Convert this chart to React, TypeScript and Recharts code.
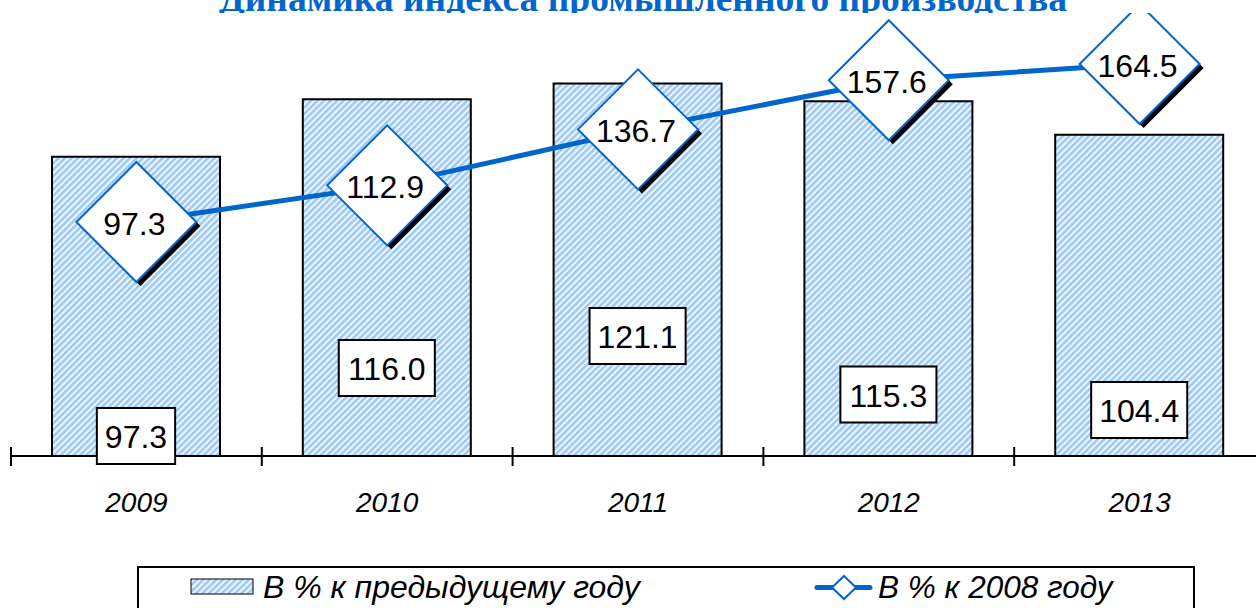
import { Bar, ComposedChart, LabelList, Legend, Line, XAxis, YAxis } from "recharts";

const years = ["2009", "2010", "2011", "2012", "2013"];
const toPrevYear = [97.3, 116.0, 121.1, 115.3, 104.4];
const to2008 = [97.3, 112.9, 136.7, 157.6, 164.5];

// how high (px above the axis) each bar's value box sits
const boxLift = [20, 88, 120, 61.5, 46];

const data = years.map((year, i) => ({ year, prev: toPrevYear[i], base: to2008[i] }));

const BLUE = "#0066cc";
const FONT = "'Liberation Sans', Arial, sans-serif";
const CHART_W = 1266;
const LEFT = 11;
const RIGHT = 1;
const BAND = (CHART_W - LEFT - RIGHT) / years.length;

const fmt = (v: number) => v.toFixed(1);
const textW = (s: string, size: number) =>
  s.split("").reduce((w, c) => w + (c === "." ? 0.278 : 0.556) * size, 0);

function HatchDefs({ id }: { id: string }) {
  return (
    <defs>
      <pattern id={id} width="4.6" height="4.6" patternUnits="userSpaceOnUse" patternTransform="rotate(45)">
        <rect width="4.6" height="4.6" fill="#eef6fe" />
        <rect width="2.6" height="4.6" fill="#9fcaf3" />
      </pattern>
    </defs>
  );
}

function ValueBox(props: any) {
  const { x, y, width, height, value, index } = props;
  const cx = x + width / 2;
  const cy = y + height - boxLift[index];
  const label = fmt(value);
  const w = textW(label, 32) + 16;
  return (
    <g>
      <rect x={cx - w / 2} y={cy - 28} width={w} height={56} fill="#fff" stroke="#000" strokeWidth={2} />
      <text x={cx} y={cy + 12} textAnchor="middle" fontSize={32} fontFamily={FONT} fill="#000">
        {label}
      </text>
    </g>
  );
}

function Diamond(props: any) {
  const { cx, cy, payload, index } = props;
  const r = 60;
  const pts = (dx: number, dy: number) =>
    `${cx + dx},${cy - r + dy} ${cx + r + dx},${cy + dy} ${cx + dx},${cy + r + dy} ${cx - r + dx},${cy + dy}`;
  return (
    <g key={`d-${index}`}>
      <polygon points={pts(4, 4)} fill="#000" />
      <polygon points={pts(0, 0)} fill="#fff" stroke={BLUE} strokeWidth={2} />
      <text x={cx - 2} y={cy + 13} textAnchor="middle" fontSize={32} fontFamily={FONT} fill="#000">
        {fmt(payload.base)}
      </text>
    </g>
  );
}

function YearTick(props: any) {
  const { x, y, payload, index } = props;
  return (
    <g>
      <line x1={x - BAND / 2} x2={x - BAND / 2} y1={y - 9} y2={y + 10} stroke="#000" strokeWidth={2} />
      {index === years.length - 1 && (
        <line x1={x + BAND / 2} x2={x + BAND / 2} y1={y - 9} y2={y + 10} stroke="#000" strokeWidth={2} />
      )}
      <text x={x} y={y + 56} textAnchor="middle" fontSize={28} fontStyle="italic" fontFamily={FONT} fill="#000">
        {payload.value}
      </text>
    </g>
  );
}

function LegendBox() {
  return (
    <svg width={1058} height={60} style={{ display: "block" }}>
      <HatchDefs id="hatchLegend" />
      <rect x={1} y={1} width={1056} height={70} fill="#fff" stroke="#000" strokeWidth={2} />
      <rect x={54} y={13} width={62} height={15} fill="url(#hatchLegend)" stroke="#000" strokeWidth={1} />
      <text x={126} y={32} fontSize={32} fontStyle="italic" fontFamily={FONT} fill="#000">
        В % к предыдущему году
      </text>
      <line x1={680} x2={733} y1={21.5} y2={21.5} stroke={BLUE} strokeWidth={5} strokeLinecap="round" />
      <polygon points="707,10 719,21.5 707,33 695,21.5" fill="#fff" stroke={BLUE} strokeWidth={2} />
      <text x={741} y={32} fontSize={31.5} fontStyle="italic" fontFamily={FONT} fill="#000">
        В % к 2008 году
      </text>
    </svg>
  );
}

export default function App() {
  return (
    <div style={{ position: "absolute", left: 0, top: 0, width: 1256, height: 608, overflow: "hidden", background: "#fff" }}>
      <svg width={1256} height={13} style={{ position: "absolute", left: 0, top: 0 }}>
        <text x={643} y={11} textAnchor="middle" fontSize={37.5} fontWeight="bold" fill={BLUE}
          fontFamily="'Liberation Serif', 'Times New Roman', serif">
          Динамика индекса промышленного производства
        </text>
      </svg>
      <div style={{ position: "absolute", left: 0, top: 13, width: 1256, height: 595, overflow: "hidden" }}>
        <ComposedChart width={CHART_W} height={595} data={data} margin={{ top: 0, right: RIGHT, left: LEFT, bottom: 0 }}>
          <HatchDefs id="hatch" />
          <XAxis
            dataKey="year"
            height={152}
            tickSize={0}
            tickMargin={0}
            axisLine={{ stroke: "#000", strokeWidth: 2 }}
            tickLine={false}
            tick={<YearTick />}
            interval={0}
          />
          <YAxis yAxisId="prev" hide domain={[0, 144]} />
          <YAxis yAxisId="base" hide orientation="right" domain={[-2.2, 186.2]} />
          <Legend
            layout="vertical"
            align="center"
            verticalAlign="middle"
            wrapperStyle={{ top: 553, left: 137, width: 1058, height: 60 }}
            content={() => <LegendBox />}
          />
          <Bar
            yAxisId="prev"
            dataKey="prev"
            name="В % к предыдущему году"
            barSize={168}
            fill="url(#hatch)"
            stroke="#000"
            strokeWidth={2}
            isAnimationActive={false}
          >
            <LabelList dataKey="prev" content={<ValueBox />} />
          </Bar>
          <Line
            yAxisId="base"
            dataKey="base"
            name="В % к 2008 году"
            stroke={BLUE}
            strokeWidth={5}
            dot={(p: any) => <Diamond {...p} />}
            activeDot={false}
            isAnimationActive={false}
          />
        </ComposedChart>
      </div>
    </div>
  );
}
